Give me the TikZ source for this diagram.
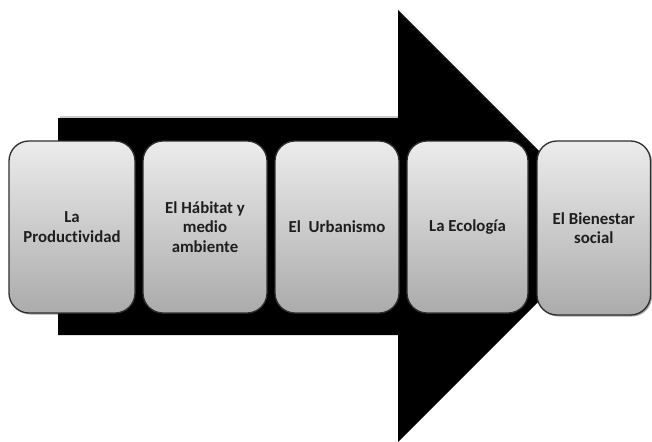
\documentclass[tikz,border=0pt]{standalone}
\usepackage{fontspec}
\setmainfont[Ligatures=NoCommon]{Carlito}
\usetikzlibrary{shadows}
\definecolor{boxtop}{HTML}{ECECEC}
\definecolor{boxbot}{HTML}{ABABAB}
\definecolor{boxline}{HTML}{2E2E2E}
\definecolor{boxtext}{HTML}{1E1E1E}
\tikzset{
  stagebox/.style={draw=boxline, line width=1.3pt, rounded corners=20pt,
    top color=boxtop, bottom color=boxbot,
    drop shadow={shadow xshift=1.5pt, shadow yshift=-1.5pt, opacity=0.35, fill=black}},
  stagetext/.style={font=\fontsize{16.8}{19.5}\selectfont\bfseries, text=boxtext, align=center},
  bigarrow/.style={fill=black, draw=none}
}
\begin{document}
\begin{tikzpicture}[x=1pt,y=-1pt]
\useasboundingbox (0,0) rectangle (652,441);
% big arrow
\fill[gray!70, opacity=0.6] (60,116) -- (398,116) -- (398,120) -- (60,120) -- cycle;
\path[bigarrow] (58,118) -- (398,118) -- (398,10) -- (614,226) -- (398,442) -- (398,335) -- (58,335) -- cycle;
% boxes
\newcommand{\stage}[6]{%
  \path[stagebox] (#2,#3) rectangle (#4,#5);
  \node[stagetext] (#1) at ({(#2+#4)/2},{(#3+#5)/2}) {#6};}
\stage{s1}{9}{141}{135}{313}{La\\Productividad}
\stage{s2}{143}{141}{267}{313}{El Hábitat y\\medio\\ambiente}
\stage{s3}{275}{141}{399}{313}{El\ \ Urbanismo}
\stage{s4}{407}{141}{528}{313}{La Ecología}
\stage{s5}{537}{141}{650.5}{315}{El Bienestar\\social}
\end{tikzpicture}
\end{document}
